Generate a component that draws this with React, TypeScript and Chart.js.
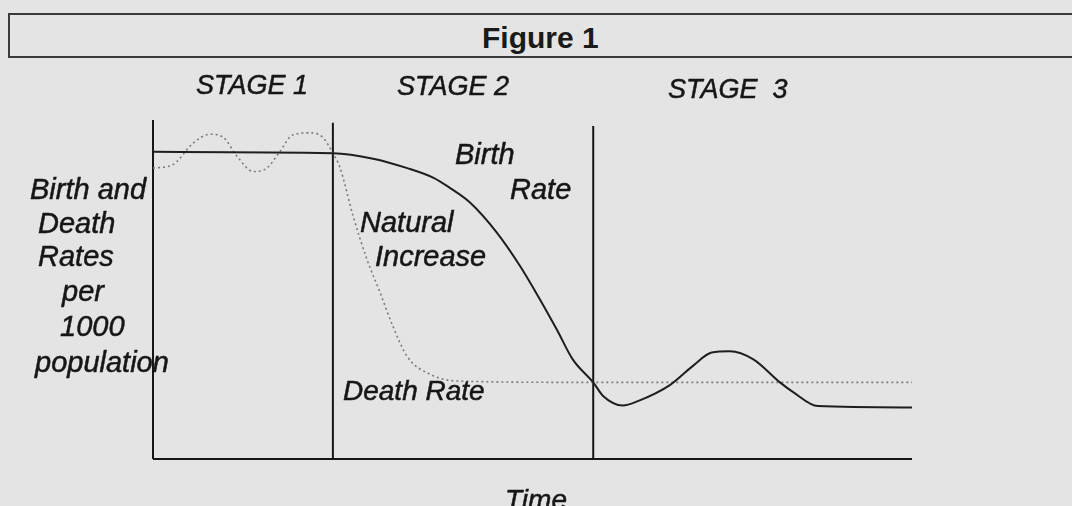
import React, { useEffect, useRef } from "react";
import { Chart, registerables } from "chart.js";

Chart.register(...registerables);

// Time axis (0..100) and rate axis (0..50 per 1000)
const BIRTH_X = [0, 23.7, 29.0, 33.5, 36.9, 39.1, 41.8, 45.3, 48.4, 51.0, 53.2, 55.3, 58.0, 59.3, 61.9, 63.8, 68.1, 71.1, 73.6, 76.0, 79.1, 82.6, 84.3, 87.6, 100];
const BIRTH_Y = [45.3, 45.1, 44.3, 42.9, 41.5, 40.0, 37.8, 33.4, 28.4, 23.5, 19.1, 14.7, 11.3, 9.3, 7.9, 8.5, 10.9, 13.7, 15.7, 15.9, 14.7, 11.3, 9.9, 7.8, 7.6];

const DEATH_X = [0, 2.6, 5.3, 7.5, 9.2, 11.1, 13.2, 15.0, 16.7, 18.4, 20.7, 22.4, 23.7, 24.6, 26.4, 28.2, 29.9, 31.6, 33.5, 36.5, 40.1, 58.0, 100];
const DEATH_Y = [42.9, 43.4, 46.6, 47.9, 47.5, 44.6, 42.4, 42.9, 45.3, 47.8, 48.1, 47.4, 45.1, 43.1, 35.7, 29.4, 24.6, 19.6, 15.1, 12.5, 11.5, 11.3, 11.3];

const STAGE_BOUNDS = [23.7, 58.0];
const STAGE_TOPS = [49.6, 49.1];
const X_MIN = 0;
const X_MAX = 100;
const Y_MIN = 0;
const Y_MAX = 50;

const STAGE_LABELS = ["STAGE 1", "STAGE 2", "STAGE  3"];
const Y_TITLE_LINES = ["Birth and", "Death", "Rates", "per", "1000", "population"];
const X_TITLE = "Time";
const FIGURE_TITLE = "Figure 1";

const pts = (xs: number[], ys: number[]) => xs.map((x, i) => ({ x, y: ys[i] }));

const INK = "#161616";
const LABEL_FONT = "'Liberation Sans', Arial, sans-serif";

type Lbl = { text: string; left: number; top: number; size: number };

const labels: Lbl[] = [
  { text: STAGE_LABELS[0], left: 196, top: 71, size: 27 },
  { text: STAGE_LABELS[1], left: 397, top: 72, size: 27 },
  { text: STAGE_LABELS[2], left: 668, top: 75, size: 27 },
  { text: Y_TITLE_LINES[0], left: 30, top: 175, size: 29 },
  { text: Y_TITLE_LINES[1], left: 38, top: 209, size: 29 },
  { text: Y_TITLE_LINES[2], left: 38, top: 242, size: 29 },
  { text: Y_TITLE_LINES[3], left: 62, top: 277, size: 29 },
  { text: Y_TITLE_LINES[4], left: 60, top: 312, size: 29 },
  { text: Y_TITLE_LINES[5], left: 35, top: 348, size: 29 },
  { text: "Birth", left: 455, top: 140, size: 29 },
  { text: "Rate", left: 510, top: 175, size: 29 },
  { text: "Natural", left: 360, top: 208, size: 29 },
  { text: "Increase", left: 375, top: 242, size: 29 },
  { text: "Death Rate", left: 343, top: 377, size: 28 },
  { text: X_TITLE, left: 505, top: 486, size: 28 },
];

export default function App() {
  const ref = useRef<HTMLCanvasElement | null>(null);

  useEffect(() => {
    if (!ref.current) return;
    const lineStyle = {
      borderColor: INK,
      borderWidth: 2,
      pointRadius: 0,
      tension: 0,
      clip: false as const,
      fill: false,
    };
    const chart = new Chart(ref.current, {
      type: "line",
      data: {
        datasets: [
          {
            label: "Birth Rate",
            data: pts(BIRTH_X, BIRTH_Y),
            borderColor: "#1e1e1e",
            borderWidth: 2,
            pointRadius: 0,
            cubicInterpolationMode: "monotone",
            clip: false,
            fill: false,
          },
          {
            label: "Death Rate",
            data: pts(DEATH_X, DEATH_Y),
            borderColor: "#7a7a7a",
            borderWidth: 1.6,
            borderDash: [2, 3],
            pointRadius: 0,
            cubicInterpolationMode: "monotone",
            clip: false,
            fill: false,
          },
          {
            label: "y axis",
            data: [{ x: X_MIN, y: Y_MIN }, { x: X_MIN, y: Y_MAX }],
            ...lineStyle,
          },
          {
            label: "x axis",
            data: [{ x: X_MIN, y: Y_MIN }, { x: X_MAX, y: Y_MIN }],
            ...lineStyle,
          },
          ...STAGE_BOUNDS.map((b, i) => ({
            label: "stage " + (i + 1),
            data: [{ x: b, y: Y_MIN }, { x: b, y: STAGE_TOPS[i] }],
            ...lineStyle,
          })),
        ],
      },
      options: {
        animation: false,
        responsive: false,
        devicePixelRatio: 1,
        events: [],
        layout: { padding: { left: 153, right: 160, top: 120, bottom: 47 } },
        scales: {
          x: { type: "linear", min: X_MIN, max: X_MAX, display: false },
          y: { type: "linear", min: Y_MIN, max: Y_MAX, display: false },
        },
        plugins: {
          legend: { display: false },
          tooltip: { enabled: false },
          title: { display: false },
        },
      },
    });
    return () => chart.destroy();
  }, []);

  return (
    <div
      style={{
        position: "fixed",
        left: 0,
        top: 0,
        width: 1072,
        height: 506,
        overflow: "hidden",
        background: "#e4e4e4",
      }}
    >
      <div
        style={{
          position: "absolute",
          left: 8,
          top: 13,
          width: 1080,
          height: 41,
          border: "2px solid #3a3a3a",
          boxSizing: "content-box",
        }}
      />
      <span
        style={{
          position: "absolute",
          left: 482,
          top: 23,
          fontFamily: LABEL_FONT,
          fontWeight: "bold",
          fontSize: 30,
          lineHeight: "30px",
          color: "#1a1a1a",
          whiteSpace: "pre",
        }}
      >
        {FIGURE_TITLE}
      </span>
      <canvas
        ref={ref}
        width={1072}
        height={506}
        style={{ position: "absolute", left: 0, top: 0, width: 1072, height: 506 }}
      />
      {labels.map((l, i) => (
        <span
          key={i}
          style={{
            position: "absolute",
            left: l.left,
            top: l.top,
            fontFamily: LABEL_FONT,
            fontStyle: "italic",
            fontSize: l.size,
            lineHeight: "28px",
            color: INK,
            whiteSpace: "pre",
            WebkitTextStroke: "0.5px " + INK,
          }}
        >
          {l.text}
        </span>
      ))}
    </div>
  );
}
